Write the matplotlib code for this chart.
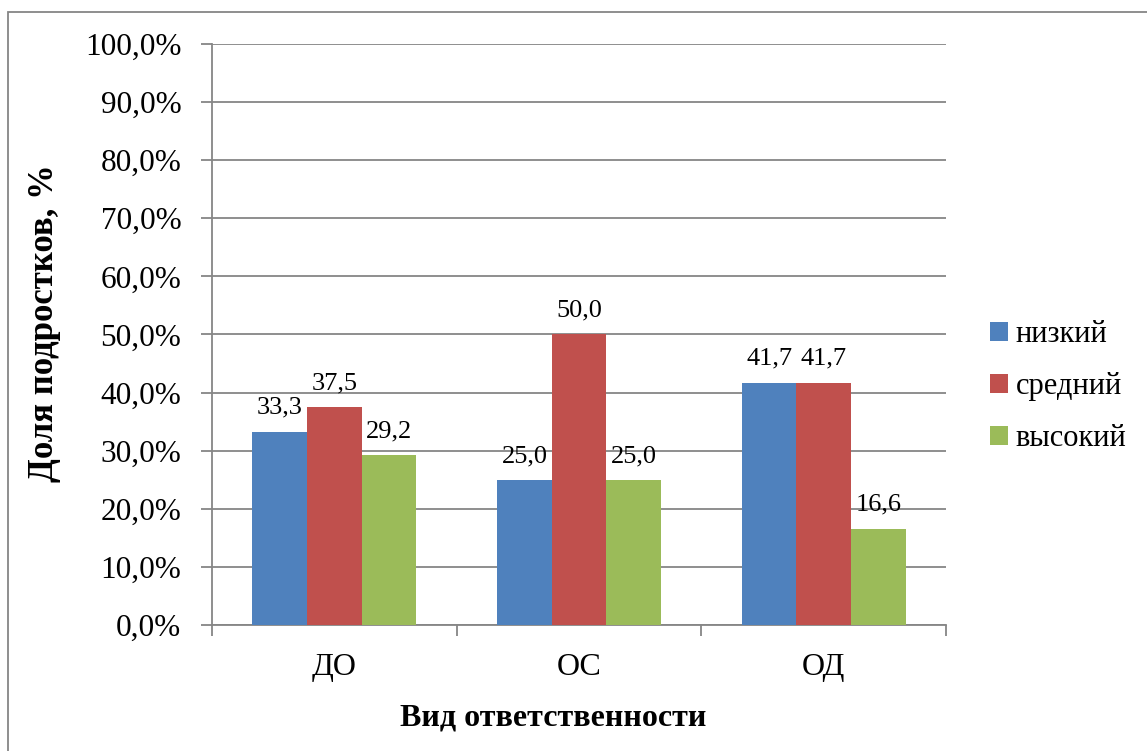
import numpy as np
import matplotlib.pyplot as plt
from matplotlib.patches import Rectangle

plt.rcParams['font.family'] = ['Liberation Serif', 'DejaVu Serif']

# данные
categories = ['ДО', 'ОС', 'ОД']
series_names = ['низкий', 'средний', 'высокий']
low = [33.3, 25.0, 41.7]
mid = [37.5, 50.0, 41.7]
high = [29.2, 25.0, 16.6]
yticks = [0, 10, 20, 30, 40, 50, 60, 70, 80, 90, 100]

colors = ['#4F81BD', '#C0504D', '#9BBB59']
grid_c = '#868686'

fig = plt.figure(figsize=(11.47, 7.51), dpi=100)
ax = fig.add_axes([0.1848, 0.1678, 0.6400, 0.7736])

x = np.arange(len(categories))
w = 0.223
for i, (vals, name) in enumerate(zip([low, mid, high], series_names)):
    bars = ax.bar(x + (i - 1) * w, vals, w, color=colors[i], label=name, zorder=3)
    for b, v in zip(bars, vals):
        ax.text(b.get_x() + b.get_width() / 2, v + 2.2, f'{v:.1f}'.replace('.', ','),
                ha='center', va='bottom', fontsize=19)

ax.set_xlim(-0.5, 2.5)
ax.set_ylim(0, 100)
ax.set_yticks(yticks)
ax.set_yticklabels([f'{t:.1f}%'.replace('.', ',') for t in yticks], fontsize=22.5)
ax.yaxis.grid(True, color=grid_c, linewidth=1.3, zorder=0)
ax.set_xticks(x)
ax.set_xticklabels(categories, fontsize=23)
ax.set_xticks([-0.5, 0.5, 1.5, 2.5], minor=True)
ax.tick_params(axis='x', which='major', length=0, pad=20)
ax.tick_params(axis='x', which='minor', length=8, color=grid_c, width=1.3)
ax.tick_params(axis='y', length=8, color=grid_c, width=1.3, pad=14)
for s in ['top', 'right']:
    ax.spines[s].set_visible(False)
for s in ['left', 'bottom']:
    ax.spines[s].set_color(grid_c)
    ax.spines[s].set_linewidth(1.3)

ax.set_xlabel('Вид ответственности', fontsize=23, fontweight='bold')
ax.set_ylabel('Доля подростков, %', fontsize=25, fontweight='bold')
ax.xaxis.set_label_coords(0.4646, -0.160)
ax.yaxis.set_label_coords(-0.2275, 0.52)
ax.xaxis.label.set_va('center')
ax.yaxis.label.set_va('center')

ax.legend(loc='center left', bbox_to_anchor=(1.023, 0.41), frameon=False, fontsize=22,
          handlelength=0.56, handleheight=0.56, handletextpad=0.26, labelspacing=0.75)

fig.patches.append(Rectangle((8 / 1147, -0.01), 1.0, 1 - 12 / 751 + 0.01,
                             transform=fig.transFigure, fill=False,
                             edgecolor=grid_c, linewidth=1.3))

plt.savefig('out.png', dpi=100)
